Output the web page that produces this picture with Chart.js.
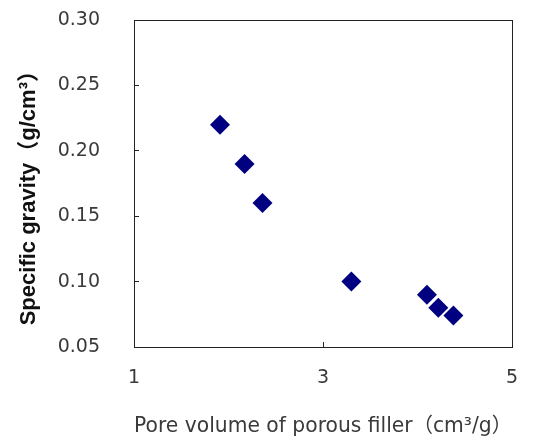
<!DOCTYPE html>
<html>
<head>
<meta charset="utf-8">
<script src="https://cdn.jsdelivr.net/npm/chart.js@4"></script>
<style>
  html, body { margin: 0; padding: 0; background: #fff; }
  canvas { display: block; }
</style>
</head>
<body>
<canvas id="chart" width="535" height="441"></canvas>
<script>
// pore volume (cm3/g) vs specific gravity (g/cm3)
const poreVolume = [1.91, 2.17, 2.36, 3.30, 4.10, 4.22, 4.38];
const specificGravity = [0.22, 0.19, 0.16, 0.10, 0.09, 0.08, 0.074];
const xTicks = [1, 3, 5];
const yTicks = [0.05, 0.10, 0.15, 0.20, 0.25, 0.30];

const FONT = "'DejaVu Sans', 'Noto Sans CJK JP', sans-serif";
const BOLD_FONT = "'Liberation Sans', 'Noto Sans CJK JP', sans-serif";
const INK = '#222';
const TEXT = '#3a3a3a';

// box round the plot area
const frame = {
  id: 'frame',
  afterDraw(chart) {
    const { ctx, chartArea: a } = chart;
    ctx.save();
    ctx.strokeStyle = INK;
    ctx.lineWidth = 1;
    ctx.strokeRect(Math.round(a.left) + 0.5, Math.round(a.top) + 0.5,
      Math.round(a.right - a.left), Math.round(a.bottom - a.top));
    ctx.restore();
  }
};

new Chart(document.getElementById('chart'), {
  type: 'scatter',
  data: {
    datasets: [{
      data: poreVolume.map((x, i) => ({ x, y: specificGravity[i] })),
      pointStyle: 'rectRot',
      pointRadius: 10,
      pointBackgroundColor: '#000080',
      pointBorderColor: '#000080',
      pointBorderWidth: 0
    }]
  },
  options: {
    responsive: false,
    animation: false,
    layout: { padding: { top: 20, right: 23, left: 0, bottom: 0 } },
    plugins: { legend: { display: false }, tooltip: { enabled: false } },
    scales: {
      x: {
        type: 'linear',
        min: xTicks[0],
        max: xTicks[xTicks.length - 1],
        afterBuildTicks: scale => { scale.ticks = xTicks.map(value => ({ value })); },
        afterFit: scale => {
          scale.height = 94;
          scale.paddingLeft = 0;
          scale.paddingRight = 0;
        },
        grid: { drawOnChartArea: false, tickLength: -5, color: INK },
        border: { color: INK },
        ticks: { font: { family: FONT, size: 19 }, color: TEXT, padding: 25 },
        title: {
          display: true,
          text: 'Pore volume of porous filler（cm³/g）',
          font: { family: FONT, size: 20.5, lineHeight: 1.2 },
          color: TEXT,
          padding: { top: 0, bottom: 2 }
        }
      },
      y: {
        type: 'linear',
        min: yTicks[0],
        max: yTicks[yTicks.length - 1],
        afterBuildTicks: scale => { scale.ticks = yTicks.map(value => ({ value })); },
        afterFit: scale => {
          scale.width = 134;
          scale.paddingTop = 0;
          scale.paddingBottom = 0;
        },
        grid: { drawOnChartArea: false, tickLength: -5, color: INK },
        border: { color: INK },
        ticks: {
          font: { family: FONT, size: 19 },
          color: TEXT,
          padding: 39,
          callback: value => Number(value).toFixed(2)
        },
        title: {
          display: true,
          text: 'Specific gravity（g/cm³）   ',
          font: { family: BOLD_FONT, size: 22, weight: 'bold', lineHeight: 1.2 },
          color: '#111',
          padding: { top: 16, bottom: 0 }
        }
      }
    }
  },
  plugins: [frame]
});
</script>
</body>
</html>
